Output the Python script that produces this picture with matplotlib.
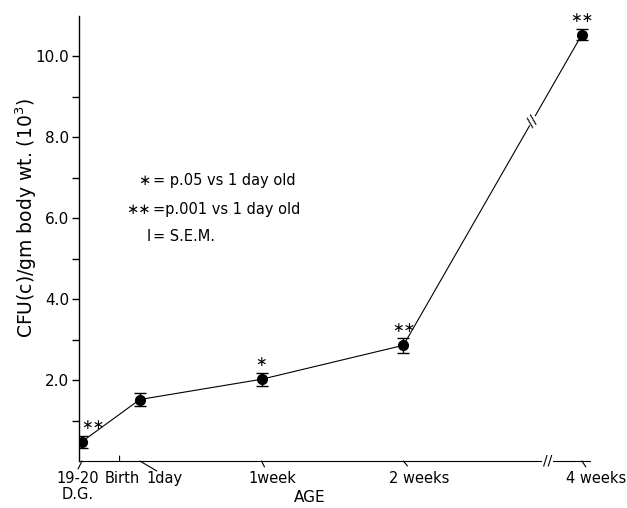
import numpy as np
import matplotlib
matplotlib.use("Agg")
import matplotlib.pyplot as plt

# age in days from birth; 19-20 D.G. sits before birth, 4 weeks is past the axis break
ages = [-1.85, 1, 7, 14, 22.8]
cfu = [0.48, 1.52, 2.02, 2.86, 10.54]
sem = [0.15, 0.16, 0.16, 0.18, 0.14]
signif = ['∗∗', '', '∗', '∗∗', '∗∗']

tick_pos = [-1.85, 0, 1, 7, 14, 22.8]
tick_labels = ['19-20\nD.G.', 'Birth', '1day', '1week', '2 weeks', '4 weeks']

# layout only: label shift and slanted tick (pixels)
label_dx = [-4, 3, 25, 11, 16, 14]
tick_dx = [-4, 0, 17, 3, 4, 4]
tick_dy = [-8, 5, -10, -6, -5, -6]

plt.rcParams['font.family'] = 'DejaVu Sans'

fig = plt.figure(figsize=(6.27, 5.08), dpi=100)
ax = fig.add_axes([79 / 627, 1 - 461 / 508, (590 - 79) / 627, (461 - 16) / 508])

ax.errorbar(ages, cfu, yerr=sem, fmt='o-', color='black', ms=7, lw=0.8,
            elinewidth=1, capsize=4, capthick=1)

ax.set_xlim(-2.0, 23.2)
ax.set_ylim(0, 11.0)
ax.spines['top'].set_visible(False)
ax.spines['right'].set_visible(False)
ax.spines['left'].set_linewidth(1)
ax.spines['bottom'].set_linewidth(0.8)

ax.set_yticks([2, 4, 6, 8, 10])
ax.set_yticklabels(['2.0', '4.0', '6.0', '8.0', '10.0'], fontsize=11)
ax.set_yticks([1, 3, 5, 7, 9], minor=True)
ax.tick_params(axis='y', which='both', length=5, width=1, pad=2)
ax.set_xticks([])
ax.set_ylabel('CFU(c)/gm body wt. (10$^3$)', fontsize=13.5)
ax.yaxis.set_label_coords(-0.078, 0.546)

# x ticks: slanted strokes with offset labels
for x, lab, ldx, tdx, tdy in zip(tick_pos, tick_labels, label_dx, tick_dx, tick_dy):
    ax.annotate('', xy=(x, 0), xycoords=('data', 'axes fraction'),
                xytext=(tdx, tdy), textcoords='offset pixels',
                arrowprops=dict(arrowstyle='-', lw=0.8, color='black',
                                shrinkA=0, shrinkB=0))
    ax.annotate(lab, xy=(x, 0), xycoords=('data', 'axes fraction'),
                xytext=(ldx, -10), textcoords='offset pixels',
                ha='center', va='top', fontsize=10.5, linespacing=1.1,
                annotation_clip=False)

ax.annotate('AGE', xy=(0.452, 0), xycoords='axes fraction', xytext=(0, -36),
            textcoords='offset pixels', ha='center', va='center', fontsize=11)

# significance stars
for i, (x, y, s) in enumerate(zip(ages, cfu, signif)):
    if not s:
        continue
    dx = 11 if i == 0 else 0
    ax.annotate(s, xy=(x, y), xytext=(dx, 17), textcoords='offset pixels',
                ha='center', va='center', fontsize=10, annotation_clip=False)

# axis breaks
xb_line = 20.36
yb_line = np.interp(xb_line, ages[3:], cfu[3:])
ax.text(xb_line, yb_line, '//', rotation=47, ha='center', va='center',
        fontsize=10, bbox=dict(fc='white', ec='none', pad=0.5))
ax.text(21.1, 0, '//', ha='center', va='center', fontsize=10,
        bbox=dict(fc='white', ec='none', pad=0.5), clip_on=False)

# key
key_sym = ['∗', '∗∗', 'I']
key_txt = ['= p.05 vs 1 day old', '=p.001 vs 1 day old', '= S.E.M.']
key_y = [6.94, 6.22, 5.56]
for sym, txt, y in zip(key_sym, key_txt, key_y):
    ax.text(1.54, y, sym, ha='right', va='center',
            fontsize=10.5)
    ax.text(1.64, y, txt, ha='left', va='center', fontsize=10.5)

fig.savefig('out.png', dpi=100)
